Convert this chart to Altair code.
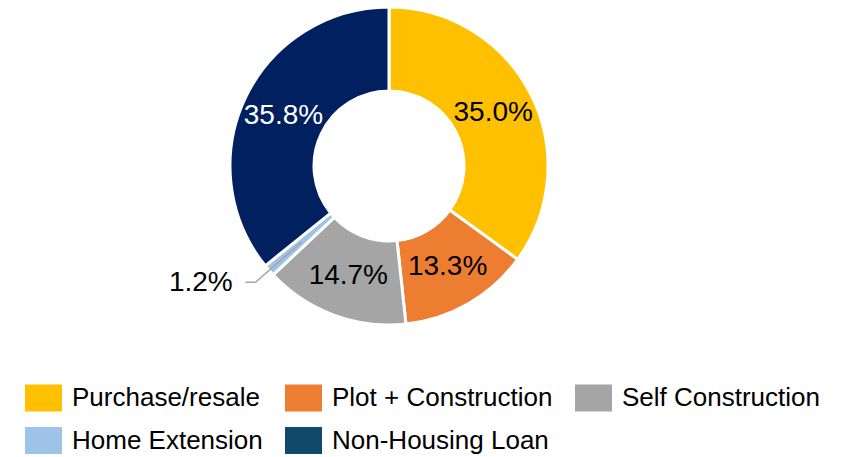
import altair as alt
import pandas as pd
import math

categories = ["Purchase/resale", "Plot + Construction", "Self Construction", "Home Extension", "Non-Housing Loan"]
values = [35.0, 13.3, 14.7, 1.2, 35.8]
labels = ["35.0%", "13.3%", "14.7%", "1.2%", "35.8%"]
slice_colors = ["#FFC000", "#ED7D31", "#A5A5A5", "#9DC3E6", "#002060"]
legend_colors = ["#FFC000", "#ED7D31", "#A5A5A5", "#9DC3E6", "#0F4A6B"]

W, H = 837, 447
CX, CY = 381, 158
R_OUT, R_IN = 159, 75
R_LAB = 117

df = pd.DataFrame({
    "category": categories,
    "value": values,
    "idx": list(range(len(categories))),
    "inside": [l if c != "Home Extension" else "" for c, l in zip(categories, labels)],
    "outside": [l if c == "Home Extension" else "" for c, l in zip(categories, labels)],
})

theta = alt.Theta("value:Q", stack=True)
order = alt.Order("idx:Q")

arcs = alt.Chart(df).mark_arc(
    outerRadius=R_OUT, innerRadius=R_IN, stroke="white", strokeWidth=3
).encode(
    theta=theta, order=order,
    fill=alt.Fill("category:N", scale=alt.Scale(domain=categories, range=slice_colors), legend=None),
    x=alt.value(CX), y=alt.value(CY),
)

inner_text = alt.Chart(df).mark_text(
    radius=R_LAB, font="Liberation Sans", fontSize=28
).encode(
    theta=theta, order=order, text="inside:N",
    color=alt.condition(alt.datum.category == "Non-Housing Loan", alt.value("white"), alt.value("black")),
    x=alt.value(CX), y=alt.value(CY),
)

outer_text = alt.Chart(df).mark_text(
    radius=178, font="Liberation Sans", fontSize=28, align="right", dx=-22, baseline="middle"
).encode(
    theta=theta, order=order, text="outside:N",
    color=alt.value("black"),
    x=alt.value(CX), y=alt.value(CY),
)

# leader line for the small slice, derived from the data
total = sum(values)
i = categories.index("Home Extension")
mid = (sum(values[:i]) + values[i] / 2) / total * 2 * math.pi
p1 = (CX + 116 * math.sin(mid), CY - 116 * math.cos(mid))
p2 = (CX + 177 * math.sin(mid), CY - 177 * math.cos(mid))
p3 = (p2[0] - 10, p2[1])
leader_df = pd.DataFrame({"px": [p1[0], p2[0], p3[0]], "py": [p1[1], p2[1], p3[1]], "k": [0, 1, 2]})
leader = alt.Chart(leader_df).mark_line(color="#A5A5A5", strokeWidth=1.5).encode(
    x=alt.X("px:Q", scale=None, axis=None),
    y=alt.Y("py:Q", scale=None, axis=None),
    order="k:Q",
)

legend_layer = alt.Chart(df).mark_square(opacity=0).encode(
    color=alt.Color(
        "category:N",
        scale=alt.Scale(domain=categories, range=legend_colors),
        legend=alt.Legend(
            orient="none", legendX=17, legendY=371, columns=3, direction="horizontal", title=None,
            symbolType="M-1,-0.73H1V0.73H-1Z", symbolSize=1369, symbolOpacity=1,
            symbolStrokeWidth=0, labelFontSize=26, labelFont="Liberation Sans",
            labelColor="black", labelOffset=10, columnPadding=22, rowPadding=10,
            labelLimit=400, padding=0,
        ),
    ),
    x=alt.value(CX), y=alt.value(CY),
)

chart = alt.layer(arcs, inner_text, outer_text, leader, legend_layer).properties(
    width=W, height=H, autosize=alt.AutoSizeParams(type="none"), padding=0,
).configure_view(stroke=None).resolve_scale(color="independent")

chart.save("out.html", embed_options={"renderer": "svg", "actions": False})
